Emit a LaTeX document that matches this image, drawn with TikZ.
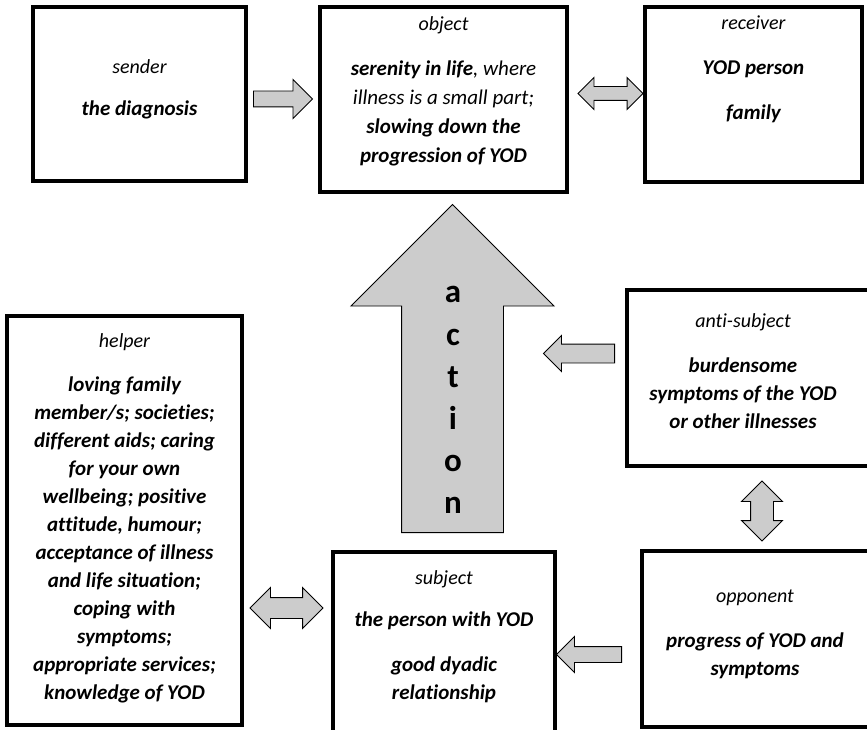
\documentclass[tikz,border=0pt]{standalone}
\usepackage{fontspec}
\setmainfont{Carlito}[Ligatures=NoCommon]
\usetikzlibrary{shapes.arrows}
\newcommand{\lblfont}{\fontsize{20}{28}\selectfont\mdseries\itshape}
\newcommand{\txtfont}{\fontsize{21}{28}\selectfont\bfseries\itshape}

\begin{document}
\begin{tikzpicture}[
    x=1pt, y=-1pt,
    box/.style={rectangle, draw=black, line width=3.2pt, fill=white, preaction={draw=gray!55, line width=4.6pt}},
    boxtext/.style={anchor=north, align=center, inner sep=0pt, font=\txtfont},
    blockarrow/.style={single arrow, draw=black, fill=gray!40, line width=0.9pt, single arrow head extend=#1, anchor=tail},
    doublearrow/.style={double arrow, draw=black, fill=gray!40, line width=0.9pt, double arrow head extend=#1}
]
    \useasboundingbox (0,0) rectangle (867,730);
    \clip (0,0) rectangle (867,730);

    \node[box, minimum width=213pt, minimum height=174pt] (sender) at (139.5,94) {};
    \node[box, minimum width=247pt, minimum height=185pt] (object) at (443.5,99.5) {};
    \node[box, minimum width=217pt, minimum height=175pt] (receiver) at (753.5,94.5) {};
    \node[box, minimum width=273pt, minimum height=176pt] (antisubject) at (763.5,378) {};
    \node[box, minimum width=235pt, minimum height=409pt] (helper) at (124.5,520.5) {};
    \node[box, minimum width=222pt, minimum height=218pt] (subject) at (444,661) {};
    \node[box, minimum width=258pt, minimum height=176pt] (opponent) at (771,639) {};

    \node[boxtext] (sendertxt) at (139.5,53.4) {{\lblfont\strut sender}\\[14pt] the diagnosis};
    \node[boxtext, font={\fontsize{21}{29}\selectfont\bfseries\itshape}] (objecttxt) at (443.5,10.4)
        {{\lblfont\strut object}\\[16pt] serenity in life{\mdseries, where}\\ {\mdseries illness is a small part;}\\ slowing down the\\ progression of YOD};
    \node[boxtext] (receivertxt) at (753.5,9.9) {{\lblfont\strut receiver}\\[17pt] YOD person\\[17pt] family};
    \node[boxtext] (antisubjecttxt) at (743,307.4) {{\lblfont\strut anti-subject}\\[17pt] burdensome\\ symptoms of the YOD\\ or other illnesses};
    \node[boxtext] (helpertxt) at (124.5,327.4) {{\lblfont\strut helper}\\[16pt] loving family\\ member/s; societies;\\ different aids; caring\\ for your own\\ wellbeing; positive\\ attitude, humour;\\ acceptance of illness\\ and life situation;\\ coping with\\ symptoms;\\ appropriate services;\\ knowledge of YOD};
    \node[boxtext] (subjecttxt) at (444,564.4) {{\lblfont\strut subject}\\[14pt] the person with YOD\\[17pt] good dyadic\\ relationship};
    \node[boxtext] (opponenttxt) at (755,582.4) {{\lblfont\strut opponent}\\[17pt] progress of YOD and\\ symptoms};

    \node[blockarrow=11.5pt, inner sep=7.5pt, minimum height=59pt] (senderarrow) at (253,99) {};
    \node[doublearrow=9pt, inner sep=6.5pt, minimum height=65pt] (receiverarrow) at (610.5,93.5) {};
    \node[blockarrow=50.5pt, inner sep=50.5pt, minimum height=328pt, shape border rotate=90] (action) at (452.5,533) {};
    \node[anchor=north, align=center, inner sep=0pt, font=\fontsize{33}{42.2}\selectfont\bfseries] (actiontxt) at (453,273.2) {\strut a\\ c\\ t\\ i\\ o\\ n};
    \node[blockarrow=8.5pt, inner sep=9pt, minimum height=71pt, shape border rotate=180] (antiarrow) at (615,353.5) {};
    \node[doublearrow=10pt, inner sep=10pt, minimum height=73pt] (helperarrow) at (286.5,608) {};
    \node[doublearrow=9pt, inner sep=11pt, minimum height=60pt, shape border rotate=90] (opponentarrow) at (762,511) {};
    \node[blockarrow=10pt, inner sep=7.5pt, minimum height=65pt, shape border rotate=180] (subjectarrow) at (622,654.5) {};
\end{tikzpicture}
\end{document}
